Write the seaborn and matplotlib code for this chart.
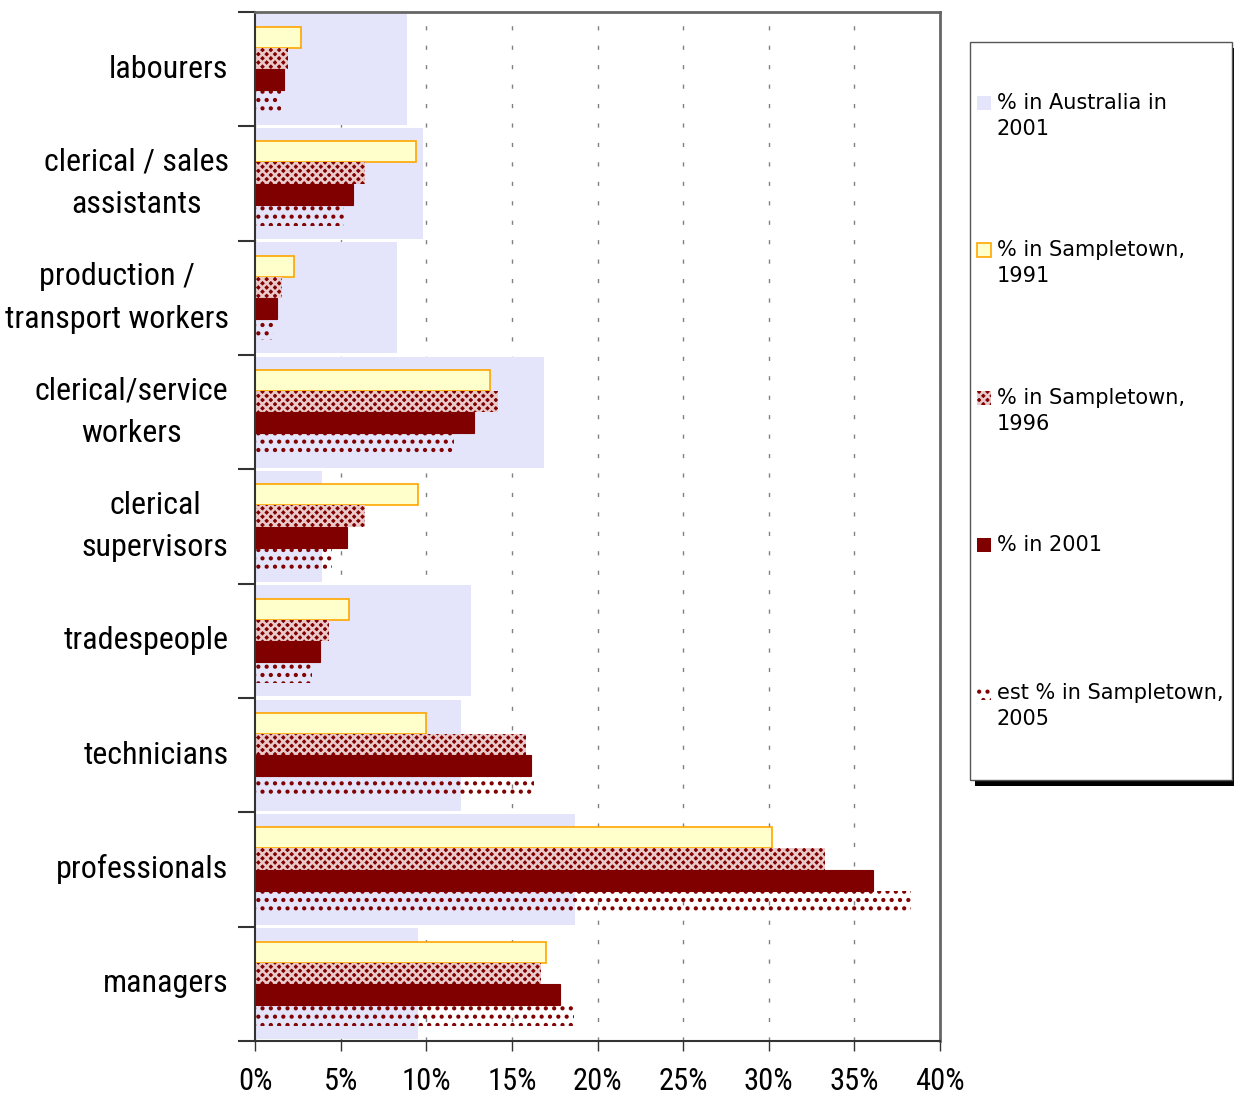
import matplotlib
matplotlib.use("Agg")
import matplotlib.pyplot as plt
from matplotlib import font_manager
from matplotlib.patches import Rectangle
import numpy as np
import pandas as pd
import seaborn as sns

categories = [
    "labourers",
    "clerical / sales\nassistants",
    "production /\ntransport workers",
    "clerical/service\nworkers",
    "clerical\nsupervisors",
    "tradespeople",
    "technicians",
    "professionals",
    "managers",
]
australia_2001 = [8.9, 9.8, 8.3, 16.9, 3.9, 12.6, 12.0, 18.7, 9.5]
sampletown_1991 = [2.7, 9.4, 2.3, 13.7, 9.5, 5.5, 10.0, 30.2, 17.0]
sampletown_1996 = [1.9, 6.4, 1.6, 14.2, 6.4, 4.3, 15.8, 33.3, 16.7]
sampletown_2001 = [1.7, 5.7, 1.3, 12.8, 5.4, 3.8, 16.1, 36.1, 17.8]
sampletown_2005_est = [1.5, 5.2, 1.05, 11.6, 4.5, 3.35, 16.3, 38.3, 18.6]

aus_label = "% in Australia in\n2001"
town_labels = [
    "% in Sampletown,\n1991",
    "% in Sampletown,\n1996",
    "% in 2001",
    "est % in Sampletown,\n2005",
]
x_ticks = [0, 5, 10, 15, 20, 25, 30, 35, 40]

aus_df = pd.DataFrame({"category": categories, "value": australia_2001})
town_df = pd.concat(
    [
        pd.DataFrame({"category": categories, "value": vals, "series": lab})
        for lab, vals in zip(
            town_labels,
            [sampletown_1991, sampletown_1996, sampletown_2001, sampletown_2005_est],
        )
    ],
    ignore_index=True,
)

sns.set_style("white")
plt.rcParams["font.family"] = ["Liberation Sans", "DejaVu Sans"]
plt.rcParams["text.color"] = "black"
plt.rcParams["xtick.color"] = "black"
plt.rcParams["ytick.color"] = "black"
plt.rcParams["hatch.linewidth"] = 1.8

# a narrow face for the axis labels, if one is installed
installed = {f.name for f in font_manager.fontManager.ttflist}
narrow = "Liberation Sans"
for cand in ["Liberation Sans Narrow", "Roboto Condensed", "Open Sans Condensed", "DejaVu Sans Condensed"]:
    if cand in installed:
        narrow = cand
        break
label_size = 23 if narrow != "Liberation Sans" else 20

fig, ax = plt.subplots(figsize=(12.34, 10.94), dpi=100)
fig.subplots_adjust(left=255 / 1234, right=940 / 1234, top=1 - 12 / 1094, bottom=1 - 1041 / 1094)

aus_style = dict(facecolor="#e4e4fa", edgecolor="#e4e4fa", linewidth=0)
styles = [
    dict(facecolor="#ffffcc", edgecolor="#ffa500", linewidth=1.2),
    dict(facecolor="#800000", edgecolor="#e9c9c9", hatch="xxxx", linewidth=0),
    dict(facecolor="#800000", edgecolor="#800000", linewidth=0.8),
    dict(facecolor="none", edgecolor="#800000", hatch="..", linewidth=0),
]

sns.barplot(data=aus_df, x="value", y="category", order=categories, orient="h",
            width=0.97, color=aus_style["facecolor"], saturation=1, errorbar=None, ax=ax)
sns.barplot(data=town_df, x="value", y="category", hue="series", hue_order=town_labels,
            order=categories, orient="h", width=0.74, saturation=1, errorbar=None,
            palette=["#ffffcc", "#b06060", "#800000", "#ffffff"], legend=False, ax=ax)

for bar in ax.containers[0]:
    bar.set(**aus_style)
for container, st in zip(ax.containers[1:], styles):
    for bar in container:
        bar.set(**st)

ax.set_xlim(0, 40)
ax.set_xticks(x_ticks)
ax.set_xticklabels([f"{t}%" for t in x_ticks], fontsize=label_size - 1, family=narrow)
ax.tick_params(axis="x", direction="out", length=7, width=1, color="#333333", pad=12, bottom=True)
ax.grid(axis="x", linestyle=(0, (3, 11)), color="#808080", linewidth=1)
ax.grid(axis="y", visible=False)
ax.set_axisbelow(True)

ax.set_yticks(range(len(categories)))
ax.set_yticklabels(categories, fontsize=label_size, family=narrow,
                   multialignment="center", linespacing=1.6)
for lab in ax.get_yticklabels():
    lab.set_verticalalignment("center")
ax.set_yticks(np.arange(-0.5, len(categories), 1), minor=True)
ax.tick_params(axis="y", which="major", length=0, pad=19)
ax.tick_params(axis="y", which="minor", direction="out", length=12, width=1.5, color="#333333", left=True)
ax.set_xlabel("")
ax.set_ylabel("")

for side in ["left", "bottom"]:
    ax.spines[side].set_color("#333333")
    ax.spines[side].set_linewidth(1.5)
for side in ["top", "right"]:
    ax.spines[side].set_visible(True)
    ax.spines[side].set_color("#666666")
    ax.spines[side].set_linewidth(2)

# legend box drawn by hand: tall frame with a hard black shadow
W, H = 1234, 1094
fig.add_artist(Rectangle((975 / W, 1 - 786 / H), 262 / W, 738 / H, transform=fig.transFigure,
                         facecolor="black", edgecolor="none", zorder=5))
fig.add_artist(Rectangle((970 / W, 1 - 780 / H), 262 / W, 738 / H, transform=fig.transFigure,
                         facecolor="white", edgecolor="#555555", linewidth=1, zorder=6))
legend_rows = [103, 250, 398, 545, 693]
for i, (y_px, lab, st) in enumerate(zip(legend_rows, [aus_label] + town_labels, [aus_style] + styles)):
    key = dict(st)
    if i != 1:
        key["linewidth"] = 0
    fig.add_artist(Rectangle((977 / W, 1 - (y_px + 7) / H), 14 / W, 14 / H,
                             transform=fig.transFigure, zorder=7, **key))
    fig.text(997 / W, 1 - (y_px - 10) / H, lab, fontsize=15, family="DejaVu Sans",
             va="top", ha="left", linespacing=1.4, zorder=8)

fig.savefig("out.png", dpi=100)
